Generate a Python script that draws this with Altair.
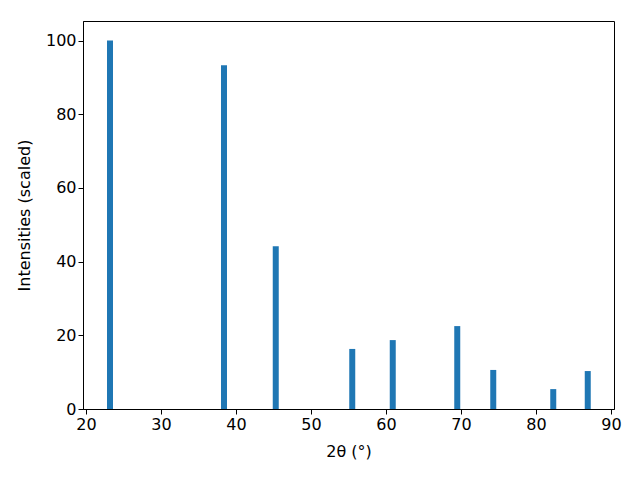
import altair as alt
import pandas as pd

two_theta = [23.2, 38.4, 45.3, 55.5, 60.9, 69.5, 74.3, 82.3, 86.9]
intensity = [100.0, 93.3, 44.2, 16.3, 18.7, 22.5, 10.6, 5.4, 10.3]

df = pd.DataFrame({"x": two_theta, "y": intensity})

FONT = "DejaVu Sans"

chart = (
    alt.Chart(df)
    .mark_bar(size=6, color="#1f77b4")
    .encode(
        x=alt.X(
            "x:Q",
            scale=alt.Scale(domain=[19.6, 90.4], nice=False, zero=False, padding=0),
            axis=alt.Axis(
                title="2θ (°)",
                values=[20, 30, 40, 50, 60, 70, 80, 90],
                grid=False,
                titlePadding=11,
            ),
        ),
        y=alt.Y(
            "y:Q",
            scale=alt.Scale(domain=[0, 105.3], nice=False, padding=0),
            axis=alt.Axis(
                title="Intensities (scaled)",
                values=[0, 20, 40, 60, 80, 100],
                grid=False,
                titlePadding=13,
            ),
        ),
    )
    .properties(
        width=531,
        height=388,
        autosize=alt.AutoSizeParams(type="none"),
        padding={"left": 75, "top": 13, "right": 18, "bottom": 63},
    )
    .configure_view(stroke="black", strokeWidth=1)
    .configure_axis(
        domainColor="black",
        tickColor="black",
        tickSize=5,
        labelFont=FONT,
        titleFont=FONT,
        labelFontSize=16,
        titleFontSize=16,
        titleFontWeight="normal",
        labelColor="black",
        titleColor="black",
    )
)

chart.save("out.html", embed_options={"renderer": "svg", "actions": False})
